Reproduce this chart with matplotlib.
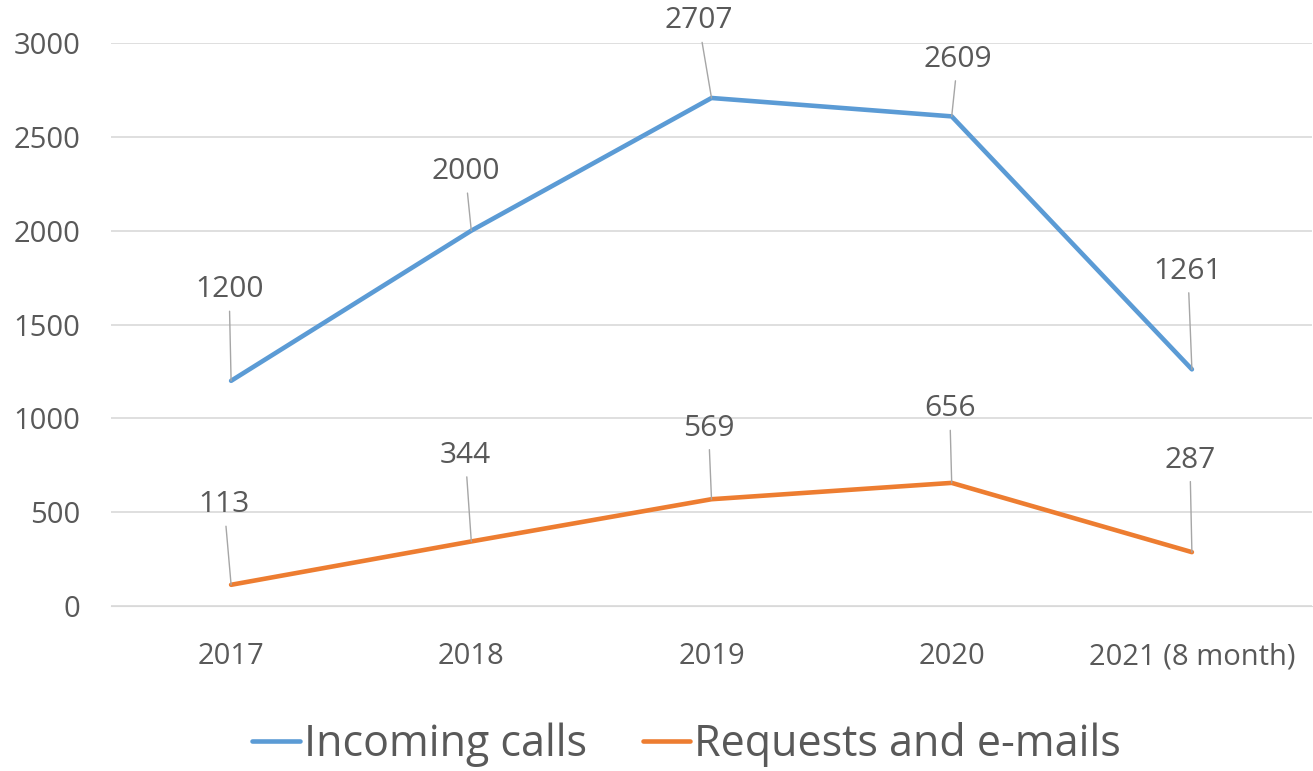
import matplotlib.pyplot as plt
import numpy as np

plt.rcParams['font.family'] = ['Open Sans', 'DejaVu Sans']

years = ['2017', '2018', '2019', '2020', '2021 (8 month)']
calls = [1200, 2000, 2707, 2609, 1261]
emails = [113, 344, 569, 656, 287]

# label offsets in pixels (dx, dy) for the leader-line labels
calls_off = [(-2, 91), (-6, 59), (-13, 77), (6, 57), (-4, 98)]
emails_off = [(-7, 80), (-6, 86), (-3, 71), (-2, 74), (-2, 92)]

blue, orange, grey = '#5B9BD5', '#ED7D31', '#595959'

fig = plt.figure(figsize=(13.13, 7.71), dpi=100)
ax = fig.add_axes([111/1313, 165/771, 1201/1313, 563/771])
x = np.arange(len(years))

ax.plot(x, calls, color=blue, lw=3.3, solid_capstyle='round', label='Incoming calls', zorder=3)
ax.plot(x, emails, color=orange, lw=3.3, solid_capstyle='round', label='Requests and e-mails', zorder=3)

for vals, offs in ((calls, calls_off), (emails, emails_off)):
    for xi, v, (dx, dy) in zip(x, vals, offs):
        ax.annotate(str(v), (xi, v), xytext=(dx, dy), textcoords='offset pixels',
                    ha='center', va='center', fontsize=21.5, color=grey,
                    arrowprops=dict(arrowstyle='-', color='#A6A6A6', lw=1, shrinkA=3, shrinkB=0),
                    annotation_clip=False)

ax.set_xlim(-0.5, 4.5)
ax.set_ylim(0, 3000)
ax.set_yticks(range(0, 3001, 500))
ax.set_xticks(x)
ax.set_xticklabels(years)
ax.grid(axis='y', color='#D9D9D9', lw=1.2)
ax.set_axisbelow(True)
for s in ax.spines.values():
    s.set_visible(False)
ax.spines['bottom'].set_visible(True)
ax.spines['bottom'].set_color('#D9D9D9')
ax.tick_params(length=0, labelsize=21, labelcolor=grey)
ax.tick_params(axis='y', pad=22)
ax.tick_params(axis='x', pad=26)

fig.legend(loc='center', bbox_to_anchor=(0.523, 0.034), ncol=2, frameon=False,
           fontsize=31, labelcolor=grey, handlelength=1.1, handletextpad=0.1, columnspacing=1.3)

fig.savefig('out.png', dpi=100)
